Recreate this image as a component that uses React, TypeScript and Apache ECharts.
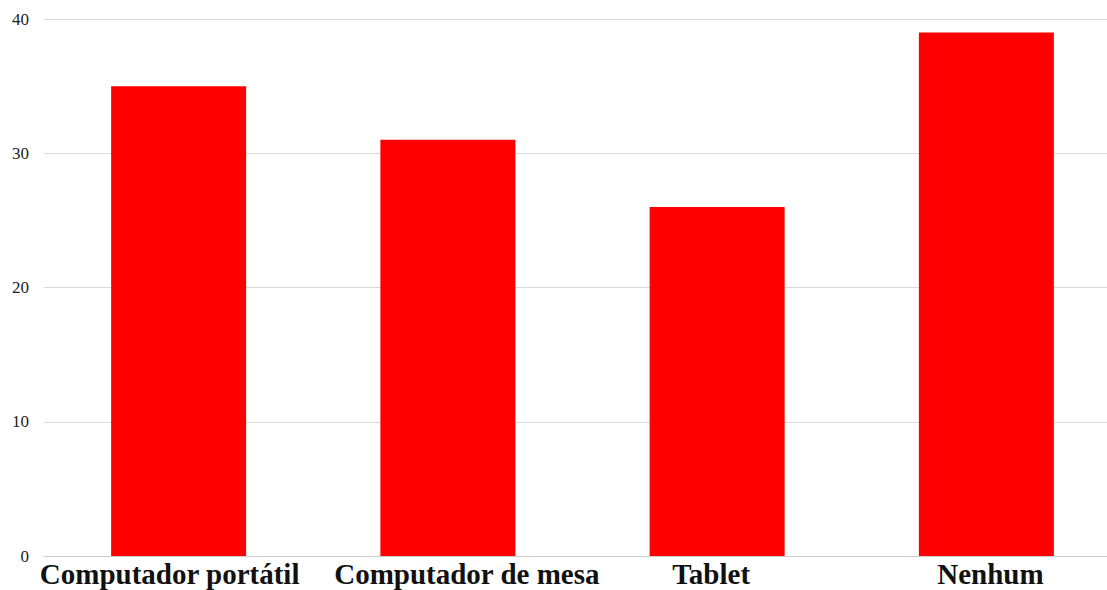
import React, { useEffect, useRef } from "react";
import * as echarts from "echarts";

const categories = ["Computador portátil", "Computador de mesa", "Tablet", "Nenhum"];
const values = [35, 31, 26, 39];
const yTicks = [0, 10, 20, 30, 40];
// horizontal label nudges (px): negative = left
const labelShift = [-9, 19, -6, 4];

export default function App() {
  const ref = useRef<HTMLDivElement>(null);
  useEffect(() => {
    if (!ref.current) return;
    const chart = echarts.init(ref.current, null, { renderer: "svg" });
    const catData = categories.map((c, i) => {
      const s = labelShift[i];
      return {
        value: c,
        textStyle: { padding: s >= 0 ? [0, 0, 0, 2 * s] : [0, -2 * s, 0, 0] },
      };
    });
    chart.setOption({
      animation: false,
      backgroundColor: "#ffffff",
      grid: { left: 44, right: 0, top: 19, bottom: 34, containLabel: false },
      xAxis: {
        type: "category",
        data: catData,
        axisTick: { show: false },
        axisLine: { show: true, lineStyle: { color: "#cccccc", width: 1 } },
        axisLabel: {
          color: "#111111",
          fontFamily: "Liberation Serif",
          fontWeight: "bold",
          fontSize: 29,
          margin: 3,
          interval: 0,
        },
      },
      yAxis: {
        type: "value",
        min: yTicks[0],
        max: yTicks[yTicks.length - 1],
        interval: 10,
        axisLine: { show: false },
        axisTick: { show: false },
        splitLine: { lineStyle: { color: "#d9d9d9", width: 1 } },
        axisLabel: {
          color: "#222222",
          fontFamily: "Liberation Serif",
          fontSize: 17,
          margin: 15,
          padding: [0, 0, 8, 0],
        },
      },
      series: [
        {
          type: "bar",
          data: values,
          barWidth: 135,
          itemStyle: { color: "#ff0000" },
        },
      ],
    });
    return () => chart.dispose();
  }, []);
  return (
    <div style={{ position: "absolute", left: 0, top: 0, width: 1107, height: 590, overflow: "hidden", background: "#fff" }}>
      <div ref={ref} style={{ width: 1121, height: 590 }} />
    </div>
  );
}
